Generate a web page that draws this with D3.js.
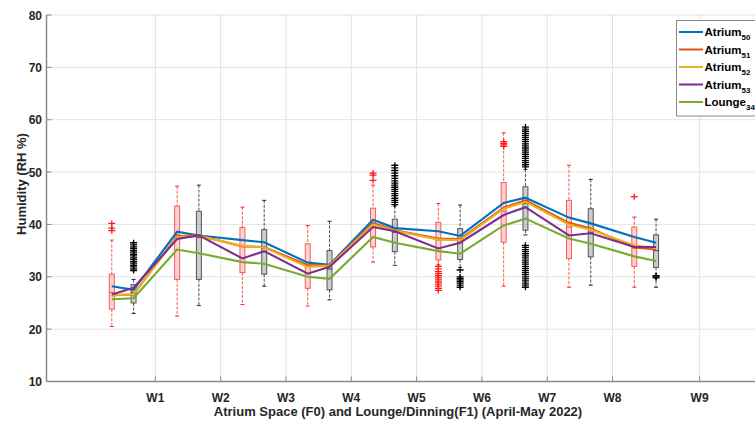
<!DOCTYPE html>
<html><head><meta charset="utf-8">
<script src="https://cdn.jsdelivr.net/npm/d3@7"></script>
<style>
body{margin:0;background:#fff;}
svg{display:block;font-family:"Liberation Sans",Arial,sans-serif;}
</style></head>
<body><svg id="c" width="755" height="423"></svg>
<script>
// ---- data ----
const weekLabels = ["W1","W2","W3","W4","W5","W6","W7","W8","W9"];
const weekTicks  = [3,6,9,12,15,18,21,24,28];
const yTicks = [10,20,30,40,50,60,70,80];

const boxPositions = [1,2,4,5,7,8,10,11,13,14,16,17,19,20,22,23,25,26];
const boxGroup = ["F0","F1","F0","F1","F0","F1","F0","F1","F0","F1","F0","F1","F0","F1","F0","F1","F0","F1"];
const boxLow  = [20.5,23.0,22.5,24.5,24.7,28.2,24.4,25.6,32.8,32.2,32.3,31.8,28.2,38.0,28.0,28.4,28.0,28.0];
const boxQ1   = [23.8,25.0,29.5,29.5,30.8,30.5,27.8,27.5,35.7,34.8,33.2,33.3,36.6,38.9,33.5,33.8,32.0,31.8];
const boxMed  = [27.0,27.0,38.0,37.5,36.0,35.5,32.0,31.5,40.0,38.5,37.0,36.5,42.5,44.0,39.5,38.5,35.5,35.0];
const boxQ3   = [30.5,28.5,43.5,42.5,39.4,39.0,36.3,35.0,43.1,41.0,40.4,39.2,48.0,47.2,44.6,43.0,39.5,38.0];
const boxHigh = [37.0,29.5,47.3,47.5,43.3,44.6,39.8,40.6,47.5,43.5,44.0,43.7,57.5,50.5,51.3,48.6,41.4,41.0];
const boxOutliers = [
  [40.2,39.3,38.8],
  [31.2,31.5,31.9,32.2,32.6,32.9,33.3,33.6,34.0,34.3,34.7,35.0,35.4,35.7,36.1,36.5],
  [],[],[],[],[],[],
  [49.8,49.4,48.4],
  [43.8,44.2,44.6,45.0,45.5,45.9,46.3,46.7,47.1,47.5,47.9,48.3,48.8,49.3,49.8,50.3,50.8,51.3],
  [32.0,31.5,31.0,30.6,30.2,29.8,29.4,29.0,28.6,28.2,27.8,27.4],
  [31.3,30.0,29.7,29.4,29.1,28.8,28.4,28.0],
  [55.8,55.5,55.2,54.9],
  [51.0,51.4,51.8,52.2,52.6,53.0,53.4,53.8,54.2,54.6,55.0,55.4,55.8,56.2,56.6,57.0,57.4,57.8,58.2,58.6,
   36.0,35.6,35.2,34.8,34.4,34.0,33.6,33.2,32.8,32.4,32.0,31.6,31.2,30.8,30.4,30.0,29.6,29.2,28.8,28.4,28.0],
  [],[],
  [45.3],
  [30.2,30.0,29.8]
];

const seriesNames = ["Atrium","Atrium","Atrium","Atrium","Lounge"];
const seriesSubs  = ["50","51","52","53","34"];
const atrium50 = [28.2,27.5,38.6,37.9,37.0,36.6,32.7,32.3,40.9,39.3,38.7,37.8,44.1,45.1,41.3,40.2,37.6,36.5];
const atrium51 = [26.5,26.6,37.8,37.9,35.8,35.7,32.2,32.2,40.3,38.9,37.3,37.2,43.2,44.6,40.3,39.2,35.6,35.2];
const atrium52 = [26.4,26.7,37.6,37.8,35.9,35.6,31.9,32.1,40.0,38.8,37.1,37.0,43.0,44.3,40.0,39.0,36.0,35.5];
const atrium53 = [26.6,27.9,37.2,37.9,33.5,34.9,30.6,31.9,39.5,38.7,35.4,36.5,41.8,43.3,37.9,38.3,35.7,35.7];
const lounge34 = [25.7,25.9,35.2,34.5,32.8,32.5,30.0,29.6,37.6,36.5,34.9,34.4,39.8,41.1,37.3,36.3,33.9,33.0];
const seriesData = [atrium50,atrium51,atrium52,atrium53,lounge34];
const seriesColors = ["#0072BD","#D95319","#EDB120","#7E2F8E","#77AC30"];

// ---- layout ----
const svg = d3.select("#c");
const padL = 46.5, padT = 15, padB = 381.5, padR = 755;
const x = d3.scaleLinear().domain([-2, 31]).range([padL, padL + 33*21.77]);
const y = d3.scaleLinear().domain([10, 80]).range([padB, padT]);

// grid
const g = svg.append("g");
g.selectAll(".hg").data(yTicks).join("line")
  .attr("x1", padL).attr("x2", padR).attr("y1", d=>y(d)).attr("y2", d=>y(d))
  .attr("stroke", "#e3e3e3").attr("stroke-width", 1);
g.selectAll(".vg").data(weekTicks).join("line")
  .attr("x1", d=>x(d)).attr("x2", d=>x(d)).attr("y1", padT).attr("y2", padB)
  .attr("stroke", "#e3e3e3").attr("stroke-width", 1);

// boxplots
const bw = 5;
const boxes = svg.append("g");
boxPositions.forEach((p, i) => {
  const isF0 = boxGroup[i] === "F0";
  const col = isF0 ? "#ff2a2a" : "#222";
  const fill = isF0 ? "rgba(255,90,90,0.28)" : "rgba(90,90,90,0.3)";
  const edge = isF0 ? "rgba(240,60,60,0.8)" : "rgba(60,60,60,0.85)";
  const cx = x(p);
  const bg = boxes.append("g");
  bg.append("line").attr("x1",cx).attr("x2",cx).attr("y1",y(boxHigh[i])).attr("y2",y(boxQ3[i]))
    .attr("stroke",col).attr("stroke-width",1).attr("stroke-dasharray","3,1.5").attr("opacity",0.8);
  bg.append("line").attr("x1",cx).attr("x2",cx).attr("y1",y(boxQ1[i])).attr("y2",y(boxLow[i]))
    .attr("stroke",col).attr("stroke-width",1).attr("stroke-dasharray","3,1.5").attr("opacity",0.8);
  [boxHigh[i], boxLow[i]].forEach(v => {
    bg.append("line").attr("x1",cx-2).attr("x2",cx+2).attr("y1",y(v)).attr("y2",y(v))
      .attr("stroke",col).attr("stroke-width",1);
  });
  bg.append("rect").attr("x",cx-bw/2).attr("width",bw)
    .attr("y",y(boxQ3[i])).attr("height",y(boxQ1[i])-y(boxQ3[i]))
    .attr("fill",fill).attr("stroke",edge).attr("stroke-width",1);
  bg.append("line").attr("x1",cx-bw/2).attr("x2",cx+bw/2).attr("y1",y(boxMed[i])).attr("y2",y(boxMed[i]))
    .attr("stroke",edge).attr("stroke-width",1.2);
  bg.selectAll("path").data(boxOutliers[i]).join("path")
    .attr("d", d => `M${cx-3.5},${y(d)}H${cx+3.5}M${cx},${y(d)-3}V${y(d)+3}`)
    .attr("stroke", isF0 ? "#ff1a1a" : "#000").attr("stroke-width",1.3).attr("fill","none");
});

// series lines
const line = d3.line().x((d,i)=>x(boxPositions[i])).y(d=>y(d));
svg.append("g").selectAll("path").data(seriesData).join("path")
  .attr("d", d=>line(d)).attr("fill","none")
  .attr("stroke",(d,i)=>seriesColors[i]).attr("stroke-width",2.1);

// axes
svg.append("line").attr("x1",padL).attr("x2",padR).attr("y1",padB).attr("y2",padB)
  .attr("stroke","#8a8a8a").attr("stroke-width",1.5);
svg.append("line").attr("x1",padL).attr("x2",padL).attr("y1",padT).attr("y2",padB)
  .attr("stroke","#8a8a8a").attr("stroke-width",1.5);
svg.selectAll(".xt").data(weekTicks).join("line")
  .attr("x1",d=>x(d)).attr("x2",d=>x(d)).attr("y1",padB).attr("y2",padB-5)
  .attr("stroke","#8a8a8a").attr("stroke-width",1);
svg.selectAll(".yt").data(yTicks).join("line")
  .attr("x1",padL).attr("x2",padL+5).attr("y1",d=>y(d)).attr("y2",d=>y(d))
  .attr("stroke","#8a8a8a").attr("stroke-width",1);

svg.selectAll(".xl").data(weekTicks).join("text")
  .attr("x",d=>x(d)).attr("y",402).attr("text-anchor","middle")
  .attr("font-size",12).attr("font-weight","bold").attr("fill","#262626")
  .text((d,i)=>weekLabels[i]);
svg.selectAll(".yl").data(yTicks).join("text")
  .attr("x",42).attr("y",d=>y(d)+4.5).attr("text-anchor","end")
  .attr("font-size",12).attr("font-weight","bold").attr("fill","#262626")
  .text(d=>d);

svg.append("text").attr("x",398).attr("y",416).attr("text-anchor","middle")
  .attr("font-size",13).attr("font-weight","bold").attr("fill","#262626")
  .text("Atrium Space (F0) and Lounge/Dinning(F1) (April-May 2022)");
svg.append("text").attr("transform","translate(26,184) rotate(-90)").attr("text-anchor","middle")
  .attr("font-size",13).attr("font-weight","bold").attr("fill","#262626")
  .text("Humidity (RH %)");

// legend
const lg = svg.append("g");
lg.append("rect").attr("x",676.5).attr("y",20.5).attr("width",90).attr("height",95.5)
  .attr("fill","#fff").attr("stroke","#8a8a8a").attr("stroke-width",1);
seriesNames.forEach((n,i)=>{
  const yy = 32 + i*17.5;
  lg.append("line").attr("x1",679).attr("x2",703).attr("y1",yy).attr("y2",yy)
    .attr("stroke",seriesColors[i]).attr("stroke-width",2);
  const t = lg.append("text").attr("x",704.5).attr("y",yy+4).attr("font-size",11.5)
    .attr("font-weight","bold").attr("fill","#000");
  t.append("tspan").text(n);
  t.append("tspan").attr("dy",4).attr("font-size",8).text(seriesSubs[i]);
});
</script></body></html>
